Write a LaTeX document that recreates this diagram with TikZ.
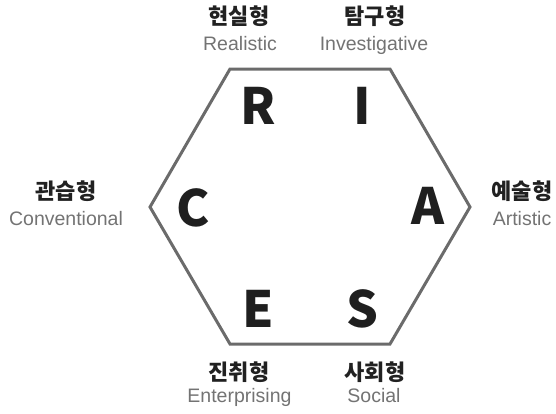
\documentclass[tikz,border=0pt]{standalone}
\usepackage{fontspec}
\setmainfont{Noto Sans CJK KR}
\newfontfamily\kr{Noto Sans CJK KR}
\newfontfamily\en{Liberation Sans}
\begin{document}
\begin{tikzpicture}[x=1pt,y=-1pt,
  hexline/.style={draw=black!58, line width=3pt, line join=miter},
  letter/.style={font=\kr\bfseries\fontsize{50}{50}\selectfont, text=black!88, inner sep=0pt},
  kor/.style={font=\kr\bfseries\fontsize{22}{22}\selectfont, text=black!87, inner sep=0pt},
  eng/.style={font=\en\fontsize{19.5}{19.5}\selectfont, text=black!55, inner sep=0pt, anchor=base}]
\useasboundingbox (0,0) rectangle (556,413);
\coordinate (v1) at (230,69);
\coordinate (v2) at (390,69);
\coordinate (v3) at (470,207);
\coordinate (v4) at (390,344);
\coordinate (v5) at (230,344);
\coordinate (v6) at (150,207);
\draw[hexline] (v1) -- (v2) -- (v3) -- (v4) -- (v5) -- (v6) -- cycle;
\node[letter] (R) at (258,105.5) {R};
\node[letter] (I) at (362,105.5) {I};
\node[letter] (C) at (193,207.5) {C};
\node[letter] (A) at (428,206) {A};
\node[letter] (E) at (258,308.5) {E};
\node[letter] (S) at (362,308.5) {S};
\node[kor] (rk) at (239,16) {현실형};
\node[eng] (re) at (240,50) {Realistic};
\node[kor] (ik) at (375,16) {탐구형};
\node[eng] (ie) at (374,50) {Investigative};
\node[kor] (ck) at (66,191) {관습형};
\node[eng] (ce) at (66,225) {Conventional};
\node[kor] (ak) at (522,191) {예술형};
\node[eng] (ae) at (522,225) {Artistic};
\node[kor] (ek) at (239,372) {진취형};
\node[eng] (ee) at (239.5,402) {Enterprising};
\node[kor] (sk) at (375,372) {사회형};
\node[eng] (se) at (374,402) {Social};
\end{tikzpicture}
\end{document}
